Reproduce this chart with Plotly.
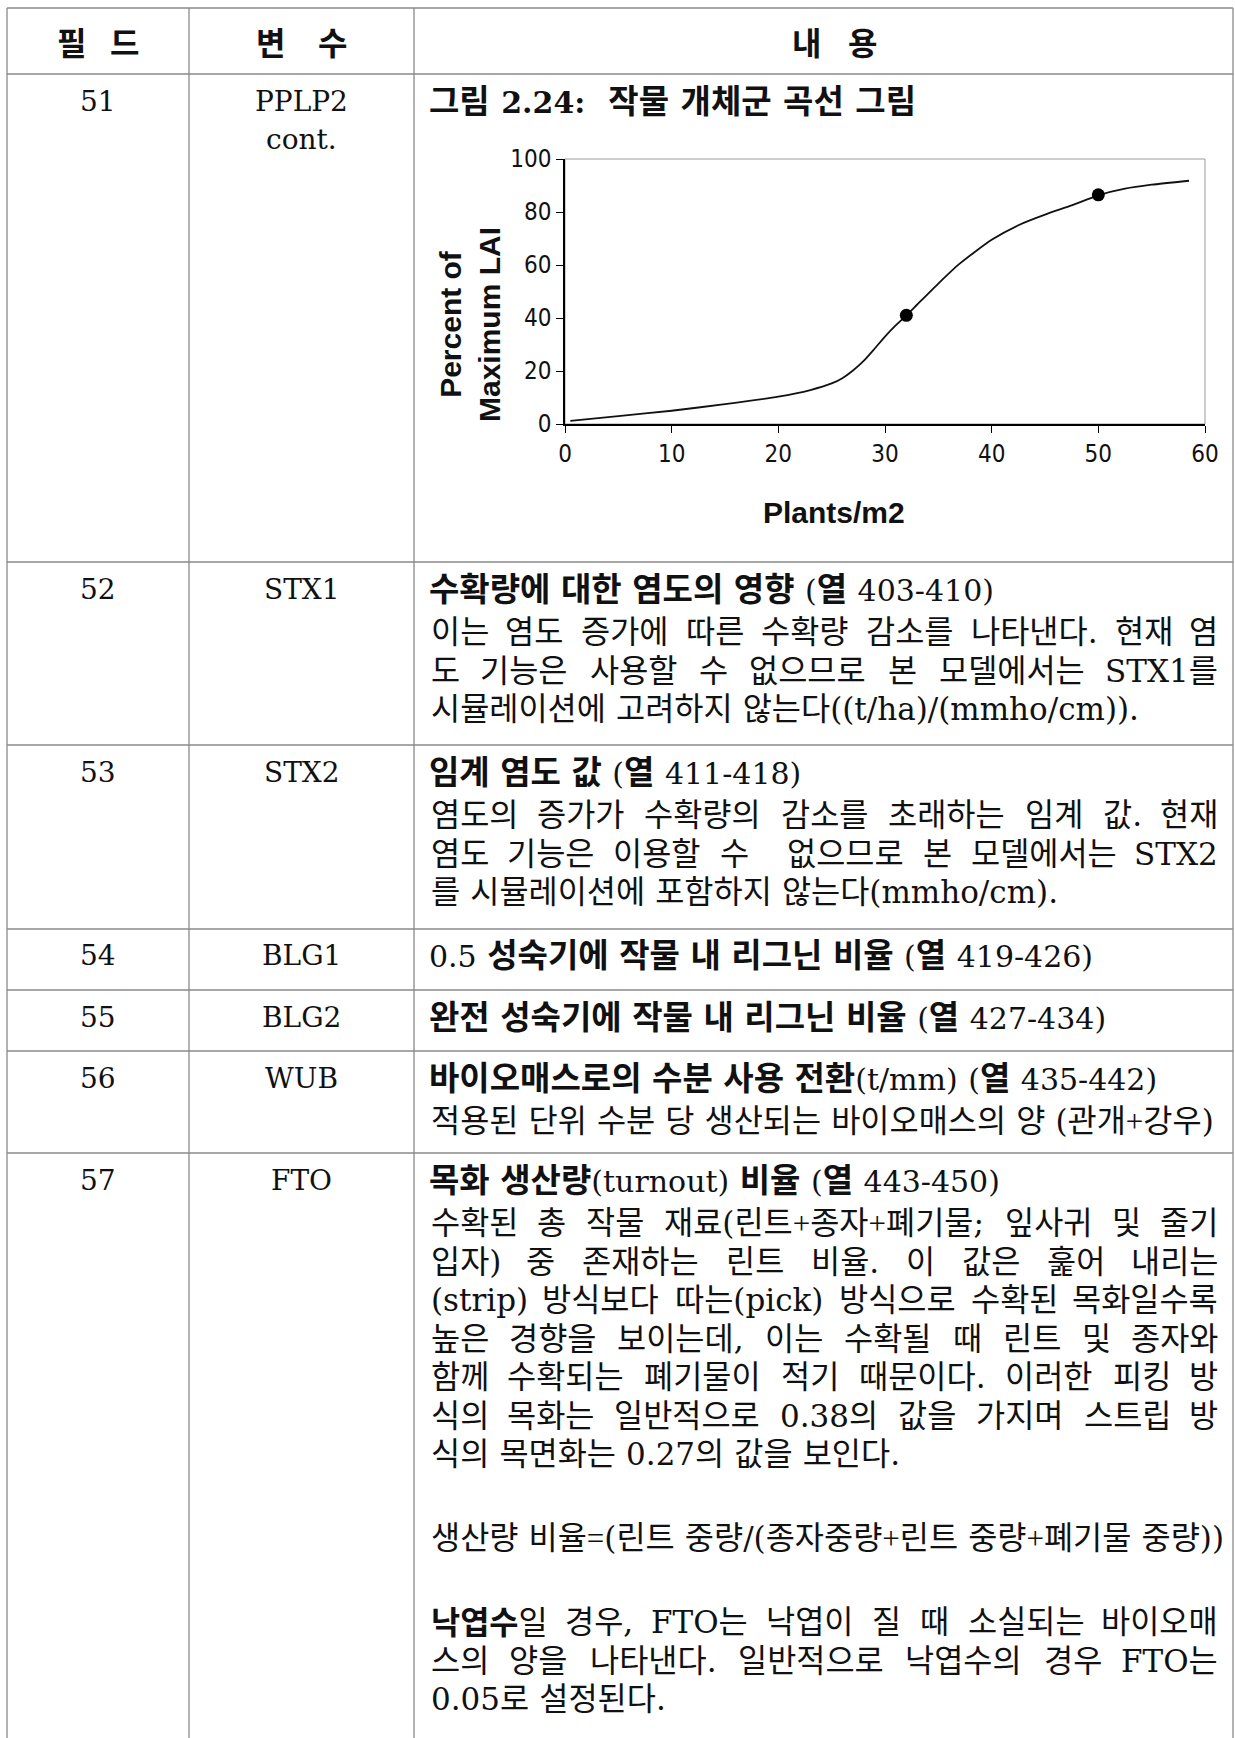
import re
import plotly.graph_objects as go

W, H = 1235, 1738

# ---------------- chart data ----------------
density = [0.5, 5, 10, 15, 20, 23, 25, 26, 27, 28, 29, 30, 31, 32, 33, 35, 37, 40, 42.5, 45, 47.5, 50, 52.5, 55, 58.5]
lai_pct = [1.2, 3.0, 5.0, 7.5, 10.3, 12.8, 15.3, 17.3, 20.2, 23.8, 28.3, 33.0, 37.2, 41.0, 45.0, 53.0, 60.5, 69.5, 75.0, 79.0, 82.5, 86.3, 88.8, 90.3, 91.8]
point_density = [32, 50]
point_pct = [41, 86.5]
x_ticks = [0, 10, 20, 30, 40, 50, 60]
y_ticks = [0, 20, 40, 60, 80, 100]
x_title = "Plants/m2"
y_title = "Percent of<br>Maximum LAI"

# ---------------- table text ----------------
header_chars = [["필", "드"], ["변", "수"], ["내", "용"]]
fields = ["51", "52", "53", "54", "55", "56", "57"]
variables = [["PPLP2", "cont."], ["STX1"], ["STX2"], ["BLG1"], ["BLG2"], ["WUB"], ["FTO"]]
titles = [
    "그림 2.24:  작물 개체군 곡선 그림",
    "수확량에 대한 염도의 영향 (열 403-410)",
    "임계 염도 값 (열 411-418)",
    "0.5 성숙기에 작물 내 리그닌 비율 (열 419-426)",
    "완전 성숙기에 작물 내 리그닌 비율 (열 427-434)",
    "바이오매스로의 수분 사용 전환(t/mm) (열 435-442)",
    "목화 생산량(turnout) 비율 (열 443-450)",
]
# (text, justified)
bodies = [
    [],
    [("이는 염도 증가에 따른 수확량 감소를 나타낸다. 현재 염", True),
     ("도 기능은 사용할 수 없으므로 본 모델에서는 STX1를", True),
     ("시뮬레이션에 고려하지 않는다((t/ha)/(mmho/cm)).", False)],
    [("염도의 증가가 수확량의 감소를 초래하는 임계 값. 현재", True),
     ("염도 기능은 이용할 수  없으므로 본 모델에서는 STX2", True),
     ("를 시뮬레이션에 포함하지 않는다(mmho/cm).", False)],
    [],
    [],
    [("적용된 단위 수분 당 생산되는 바이오매스의 양 (관개+강우)", False)],
    [("수확된 총 작물 재료(린트+종자+폐기물; 잎사귀 및 줄기", True),
     ("입자) 중 존재하는 린트 비율. 이 값은 훑어 내리는", True),
     ("(strip) 방식보다 따는(pick) 방식으로 수확된 목화일수록", True),
     ("높은 경향을 보이는데, 이는 수확될 때 린트 및 종자와", True),
     ("함께 수확되는 폐기물이 적기 때문이다. 이러한 피킹 방", True),
     ("식의 목화는 일반적으로 0.38의 값을 가지며 스트립 방", True),
     ("식의 목면화는 0.27의 값을 보인다.", False),
     ("", False),
     ("생산량 비율=(린트 중량/(종자중량+린트 중량+폐기물 중량))", False),
     ("", False),
     ("<b>낙엽수</b>일 경우, FTO는 낙엽이 질 때 소실되는 바이오매", True),
     ("스의 양을 나타낸다. 일반적으로 낙엽수의 경우 FTO는", True),
     ("0.05로 설정된다.", False)],
]

# ---------------- layout geometry (pixels) ----------------
col_x = [7, 189, 414, 1233]
row_y = [8, 74, 562, 745, 929, 990, 1051, 1153]
text_left, text_right = 429, 1220
HS, LS = 31.7, 31        # body: hangul / latin sizes
THS, TLS = 33, 30        # titles: hangul / latin sizes
CS = 28                  # first two columns
HANGUL_ADV = 0.92        # measured advance of hangul glyphs (em)
line_h = 38.5
blank_h = 45.5
BODY = "DejaVu Serif, Noto Sans CJK KR, serif"
GOTHIC = "Noto Sans CJK KR, sans-serif"
CH_SANS = "Liberation Sans, Arial, sans-serif"
CH_NARROW = "Liberation Sans Narrow, Arial Narrow, DejaVu Sans Condensed, Liberation Sans, sans-serif"
INK = "#111111"
GRID = "#8a8a8a"

fig = go.Figure()
fig.add_trace(go.Scatter(x=density, y=lai_pct, mode="lines",
                         line=dict(color="#111111", width=1.8, shape="spline", smoothing=0.6),
                         hoverinfo="skip"))
fig.add_trace(go.Scatter(x=point_density, y=point_pct, mode="markers",
                         marker=dict(color="black", size=13), hoverinfo="skip"))

px = lambda v: v / W
py = lambda v: 1 - v / H

plot_l, plot_r, plot_t, plot_b = 565, 1205, 159, 424
fig.update_layout(
    width=W, height=H, margin=dict(l=0, r=0, t=0, b=0, autoexpand=False),
    paper_bgcolor="white", plot_bgcolor="white", showlegend=False,
    xaxis=dict(domain=[px(plot_l), px(plot_r)], range=[0, 60], tickvals=x_ticks,
               ticks="outside", ticklen=7, tickwidth=1.3, tickcolor="black",
               showline=True, linecolor="black", linewidth=1.5,
               showgrid=False, zeroline=False, automargin=False,
               tickfont=dict(family=CH_NARROW, size=24, color=INK)),
    yaxis=dict(domain=[py(plot_b), py(plot_t)], range=[0, 100], tickvals=y_ticks,
               ticks="outside", ticklen=7, tickwidth=1.3, tickcolor="black",
               showline=True, linecolor="black", linewidth=1.5,
               showgrid=False, zeroline=False, automargin=False,
               tickfont=dict(family=CH_NARROW, size=24, color=INK)),
)
# axis titles (placed like the spreadsheet chart: centred on the chart area)
fig.add_annotation(x=px(834), y=py(512), xref="paper", yref="paper", showarrow=False,
                   text="<b>%s</b>" % x_title, xanchor="center", yanchor="middle",
                   font=dict(family=CH_SANS, size=30, color=INK))
fig.add_annotation(x=px(470), y=py(325), xref="paper", yref="paper", showarrow=False,
                   text="<b>%s</b>" % y_title, textangle=-90, xanchor="center", yanchor="middle",
                   font=dict(family=CH_SANS, size=30, color=INK))
# plot-area frame (grey, like the spreadsheet chart)
fig.add_shape(type="rect", xref="x domain", yref="y domain", x0=0, x1=1, y0=0, y1=1,
              line=dict(color="#9a9a9a", width=1), layer="below")

# table rules
for yy in row_y:
    fig.add_shape(type="line", xref="paper", yref="paper", x0=px(col_x[0]), x1=px(col_x[-1]),
                  y0=py(yy), y1=py(yy), line=dict(color=GRID, width=1.3))
for xx in col_x:
    fig.add_shape(type="line", xref="paper", yref="paper", x0=px(xx), x1=px(xx),
                  y0=py(row_y[0]), y1=0, line=dict(color=GRID, width=1.3))


def add_text(x, y, text, anchor="left", family=BODY, size=HS):
    fig.add_annotation(x=px(x), y=py(y), xref="paper", yref="paper", text=text,
                       showarrow=False, xanchor=anchor, yanchor="middle",
                       font=dict(family=family, size=size, color=INK))


WID = {".": .318, ",": .318, "(": .39, ")": .39, "/": .337, "+": .564, "=": .564,
       ";": .337, ":": .337, "-": .338, "S": .685, "T": .68, "X": .716, "F": .68, "O": .787,
       "a": .596, "c": .56, "h": .644, "i": .32, "k": .63, "m": .948, "o": .602, "p": .64,
       "r": .478, "s": .513, "t": .402}
HANGUL = "\uac00-\ud7a3"


def is_hangul(ch):
    return "\uac00" <= ch <= "\ud7a3"


def est_width(word, hs=HS, ls=LS):
    plain = re.sub(r"<[^>]+>", "", word)
    w = 0
    for ch in plain:
        if is_hangul(ch):
            w += HANGUL_ADV * hs
        elif ch == " " or ch == "\u00a0":
            w += .318 * hs
        elif ch.isdigit():
            w += .636 * ls
        else:
            w += WID.get(ch, .62) * ls
    return w


def latin_span(run, ls):
    out = []
    for part in re.split(r"([+=])", run):
        if not part:
            continue
        if part in "+=":
            out.append('<span style="font-family:Liberation Serif;font-size:%dpx">%s</span>' % (ls, part))
        else:
            out.append('<span style="font-size:%dpx">%s</span>' % (ls, part))
    return "".join(out)


def markup(text, bold_hangul=False, ls=LS):
    pieces = []
    for seg in re.split(r"(<[^>]+>)", text):
        if seg.startswith("<"):
            pieces.append(seg)
            continue
        for run in re.findall(r"[%s]+|\s+|[^%s\s]+" % (HANGUL, HANGUL), seg):
            if is_hangul(run[0]):
                pieces.append("<b>%s</b>" % run if bold_hangul else run)
            elif run.isspace():
                pieces.append(run.replace("  ", " \u00a0"))
            else:
                pieces.append(latin_span(run, ls))
    return "".join(pieces)


def add_justified(line, y):
    words = line.split(" ")
    widths = [est_width(w) for w in words]
    gap = (text_right - text_left - sum(widths)) / (len(words) - 1)
    x = text_left
    last = len(words) - 1
    for i, w in enumerate(words):
        if i == last:
            add_text(text_right, y, markup(w), anchor="right")
        elif i == 0:
            add_text(x, y, markup(w))
        elif w:
            add_text(x + widths[i] / 2, y, markup(w), anchor="center")
        x += widths[i] + gap


# header
hy = (row_y[0] + row_y[1]) / 2
header_x = [[71, 124], [270, 332], [806, 862]]
for chars, xs in zip(header_chars, header_x):
    for c, xx in zip(chars, xs):
        add_text(xx, hy, "<b>%s</b>" % c, anchor="center", family=GOTHIC, size=32)

c1 = (col_x[0] + col_x[1]) / 2
c2 = (col_x[1] + col_x[2]) / 2
for r in range(len(fields)):
    top = row_y[r + 1]
    ty = top + 27
    add_text(c1, ty, fields[r], anchor="center", size=CS)
    for k, v in enumerate(variables[r]):
        add_text(c2, ty + k * line_h, v, anchor="center", size=CS)
    if r == 0:
        add_text(text_left - 2, ty, "<b>" + markup(titles[r], ls=TLS) + "</b>", size=THS)
    else:
        add_text(text_left - 2, ty, markup(titles[r], bold_hangul=True, ls=TLS), size=THS)
    y = ty + 43
    for text, just in bodies[r]:
        if text == "":
            y += blank_h
            continue
        if just:
            add_justified(text, y)
        else:
            add_text(text_left, y, markup(text))
        y += line_h

fig.write_html("out.html", config={"displayModeBar": False},
               post_script="document.body.style.margin='0px';document.body.style.overflow='hidden';")
